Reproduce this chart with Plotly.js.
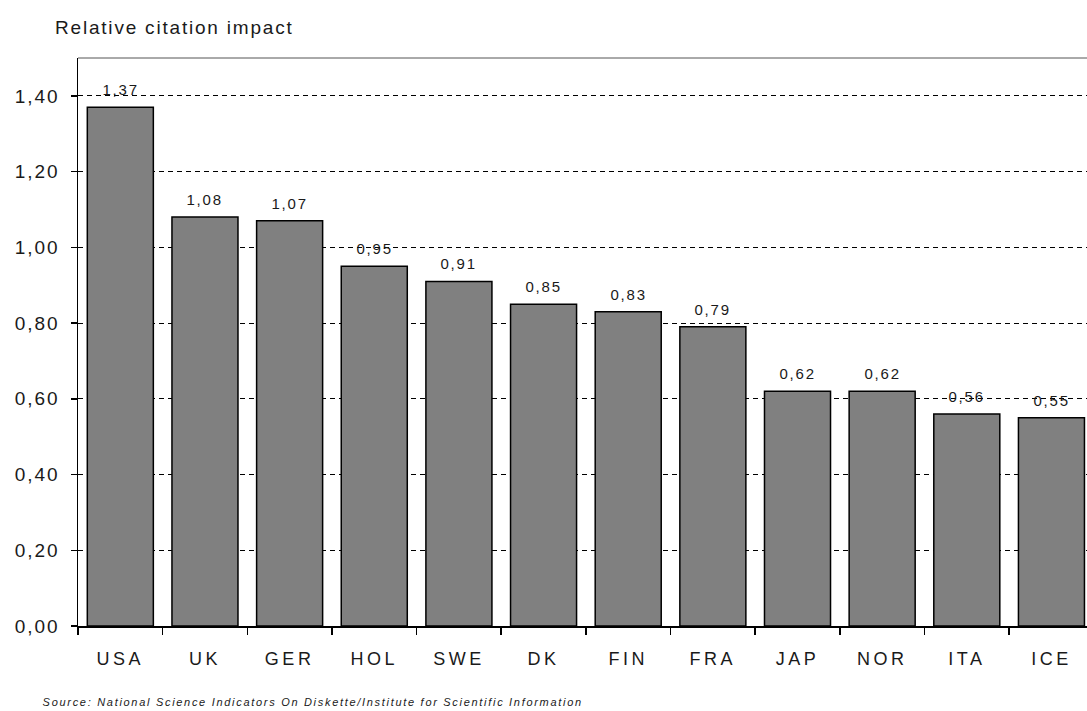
<!DOCTYPE html>
<html>
<head>
<meta charset="utf-8">
<script src="https://cdn.plot.ly/plotly-3.0.1.min.js"></script>
<style>
  html, body { margin: 0; padding: 0; background: #fff; }
  #chart { width: 1087px; height: 711px; }
  .xtick text { letter-spacing: 3.5px; }
  .ytick text { letter-spacing: 2px; }
  .gtitle { letter-spacing: 1.8px; }
  g.annotation text { letter-spacing: 1.8px; }
  g.annotation[data-index="0"] text { letter-spacing: 1.7px; }
</style>
</head>
<body>
<div id="chart"></div>
<script>
const countries = ['USA', 'UK', 'GER', 'HOL', 'SWE', 'DK', 'FIN', 'FRA', 'JAP', 'NOR', 'ITA', 'ICE'];
const impact = [1.37, 1.08, 1.07, 0.95, 0.91, 0.85, 0.83, 0.79, 0.62, 0.62, 0.56, 0.55];
const yTicks = [0, 0.2, 0.4, 0.6, 0.8, 1.0, 1.2, 1.4];
const titleText = 'Relative citation impact';
const sourceText = 'Source: National Science Indicators On Diskette/Institute for Scientific Information';

const FONT = 'Liberation Sans, Arial, sans-serif';

const trace = {
  type: 'bar',
  x: countries,
  y: impact,
  marker: { color: '#808080', line: { color: '#000000', width: 1.5 } },
  hoverinfo: 'skip'
};

const valueLabels = countries.map((c, i) => ({
  x: c, y: impact[i], xref: 'x', yref: 'y',
  text: impact[i].toFixed(2).replace('.', ','),
  showarrow: false, yanchor: 'bottom', xanchor: 'center', yshift: 7,
  font: { family: FONT, size: 15, color: '#1a1a1a' }
}));

const layout = {
  width: 1087,
  height: 711,
  paper_bgcolor: '#ffffff',
  plot_bgcolor: '#ffffff',
  separators: ',.',
  showlegend: false,
  bargap: 0.22,
  margin: { l: 78, r: 0, t: 58, b: 85 },
  font: { family: FONT, color: '#1a1a1a' },
  title: {
    text: titleText,
    font: { family: FONT, size: 19, color: '#1a1a1a' },
    xref: 'container', yref: 'container',
    x: 55 / 1087, xanchor: 'left',
    y: 1 - 27 / 711, yanchor: 'middle'
  },
  xaxis: {
    type: 'category',
    range: [-0.5, 11.42],
    showline: true, linecolor: '#000000', linewidth: 1.5,
    ticks: 'outside', ticklen: 7, tickcolor: '#000000', tickwidth: 1.5,
    tickson: 'boundaries',
    ticklabelstandoff: 16,
    showgrid: false,
    tickfont: { family: FONT, size: 18, color: '#1a1a1a' },
    fixedrange: true
  },
  yaxis: {
    range: [0, 1.5],
    tickvals: yTicks,
    tickformat: '.2f',
    showline: true, linecolor: '#000000', linewidth: 1.5,
    ticks: 'outside', ticklen: 6, tickcolor: '#000000', tickwidth: 1.5,
    ticklabelstandoff: 7,
    showgrid: true, gridcolor: '#000000', gridwidth: 1, griddash: '5px,4px',
    zeroline: false,
    tickfont: { family: FONT, size: 19, color: '#1a1a1a' },
    fixedrange: true
  },
  shapes: [
    { type: 'line', xref: 'paper', yref: 'paper', x0: 0, x1: 1, y0: 1, y1: 1,
      line: { color: '#555555', width: 1 } }
  ],
  annotations: [
    { text: '<i>' + sourceText + '</i>', xref: 'paper', yref: 'paper',
      x: (312 - 78) / 1009, xanchor: 'center', y: -76 / 568, yanchor: 'middle',
      showarrow: false,
      font: { family: FONT, size: 11, color: '#1a1a1a' } }
  ].concat(valueLabels)
};

Plotly.newPlot('chart', [trace], layout, { displayModeBar: false, staticPlot: true });
</script>
</body>
</html>
